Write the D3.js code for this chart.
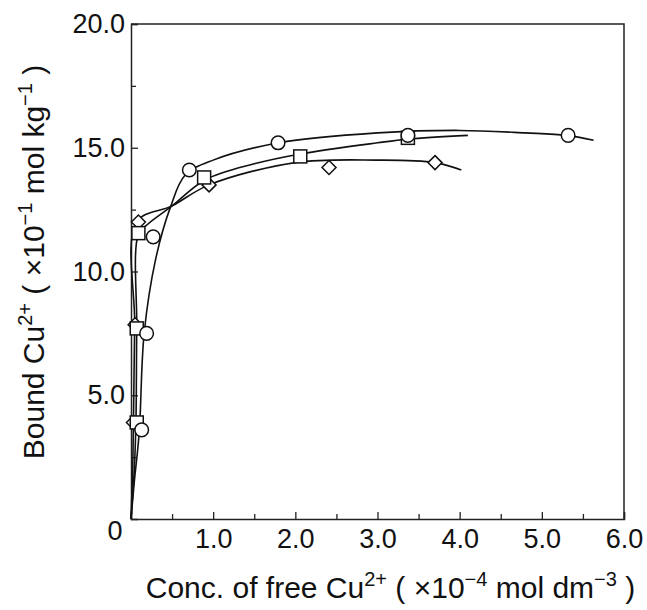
<!DOCTYPE html>
<html>
<head>
<meta charset="utf-8">
<script src="https://cdn.jsdelivr.net/npm/d3@7"></script>
<style>
  body { margin: 0; background: #fff; }
  text { font-family: "Liberation Sans", Arial, sans-serif; fill: #111; }
</style>
</head>
<body>
<div id="chart-area"></div>
<script>
// measured points
let circlePts = [[0.13, 3.6], [0.19, 7.5], [0.27, 11.4], [0.71, 14.1], [1.79, 15.2], [3.37, 15.5], [5.32, 15.5]];
let squarePts = [[0.07, 3.9], [0.07, 7.7], [0.09, 11.55], [0.89, 13.8], [2.06, 14.65], [3.37, 15.4]];
let diamondPts = [[0.03, 3.9], [0.05, 7.85], [0.09, 12.0], [0.95, 13.5], [2.41, 14.2], [3.7, 14.4]];

// fitted curves
let circleFit = [[0, 0], [0.04, 1.5], [0.1, 3.5], [0.16, 7.5], [0.3, 10.5], [0.48, 12.6], [0.66, 13.9],
    [1.0, 14.5], [1.8, 15.2], [3.0, 15.6], [4.0, 15.7], [4.8, 15.6], [5.3, 15.5], [5.63, 15.3]];
let squareFit = [[0, 0], [0.04, 2.0], [0.06, 3.9], [0.07, 7.7], [0.09, 11.5], [0.2, 11.9], [0.5, 12.65],
    [0.9, 13.7], [1.5, 14.35], [2.06, 14.75], [3.0, 15.2], [3.37, 15.35], [4.1, 15.5]];
let diamondFit = [[0, 0], [0.02, 2.0], [0.03, 3.9], [0.045, 7.85], [0.07, 12.0], [0.5, 12.65],
    [0.95, 13.5], [2.0, 14.4], [3.0, 14.5], [3.7, 14.4], [4.02, 14.1]];

let xMajor = [1, 2, 3, 4, 5, 6];
let xMinor = [0.5, 1.5, 2.5, 3.5, 4.5, 5.5];
let yMajor = [5, 10, 15, 20];
let yMinor = [2.5, 7.5, 12.5, 17.5];

let margin = { left: 131, right: 23, top: 24, bottom: 91 };
let width = 647 - margin.left - margin.right;
let height = 610 - margin.top - margin.bottom;

let svg = d3.select("#chart-area")
    .append("svg")
    .attr("width", 647)
    .attr("height", 610)
    .append("g")
    .attr("transform", "translate(" + margin.left + "," + margin.top + ")");

let x = d3.scaleLinear().domain([0, 6]).range([0, width]);
let y = d3.scaleLinear().domain([0, 20]).range([height, 0]);

// frame (top and right)
svg.append("path")
    .attr("d", "M0,0H" + width + "V" + height)
    .attr("fill", "none")
    .attr("stroke", "#222")
    .attr("stroke-width", 1.5);

// X axis
svg.append("g")
    .attr("class", "x-axis")
    .attr("transform", "translate(0," + height + ")")
    .call(d3.axisBottom(x).tickValues(xMajor).tickSize(-7).tickPadding(10)
        .tickFormat(d => d.toFixed(1)));
svg.append("g")
    .attr("transform", "translate(0," + height + ")")
    .call(d3.axisBottom(x).tickValues(xMinor).tickSize(-5).tickFormat(""))
    .select(".domain").remove();

// Y axis
svg.append("g")
    .attr("class", "y-axis")
    .call(d3.axisLeft(y).tickValues(yMajor).tickSize(-7).tickPadding(6)
        .tickFormat(d => d.toFixed(1)));
svg.append("g")
    .call(d3.axisLeft(y).tickValues(yMinor).tickSize(-5).tickFormat(""))
    .select(".domain").remove();

svg.selectAll(".domain").attr("stroke", "#222").attr("stroke-width", 1.5);
svg.selectAll(".tick line").attr("stroke", "#222").attr("stroke-width", 1.3);
svg.selectAll(".tick text")
    .style("font-family", "'Liberation Sans', Arial, sans-serif")
    .style("font-size", "27px")
    .attr("fill", "#111");

// origin label
svg.append("text")
    .attr("x", -16)
    .attr("y", height + 21)
    .attr("text-anchor", "middle")
    .style("font-size", "27px")
    .text("0");

// curves
let line = d3.line()
    .x(d => x(d[0]))
    .y(d => y(d[1]))
    .curve(d3.curveCatmullRom.alpha(0.5));

[circleFit, squareFit, diamondFit].forEach(fit => {
    svg.append("path")
        .datum(fit)
        .attr("d", line)
        .attr("fill", "none")
        .attr("stroke", "#111")
        .attr("stroke-width", 1.6);
});

// markers
svg.selectAll(".m-diamond")
    .data(diamondPts)
    .enter()
    .append("path")
    .attr("class", "m-diamond")
    .attr("d", "M0,-7L7,0L0,7L-7,0Z")
    .attr("transform", d => "translate(" + x(d[0]) + "," + y(d[1]) + ")")
    .attr("fill", "#fff")
    .attr("stroke", "#111")
    .attr("stroke-width", 1.5);

svg.selectAll(".m-square")
    .data(squarePts)
    .enter()
    .append("rect")
    .attr("class", "m-square")
    .attr("x", d => x(d[0]) - 6.5)
    .attr("y", d => y(d[1]) - 6.5)
    .attr("width", 13)
    .attr("height", 13)
    .attr("fill", "#fff")
    .attr("stroke", "#111")
    .attr("stroke-width", 1.5);

svg.selectAll(".m-circle")
    .data(circlePts)
    .enter()
    .append("circle")
    .attr("class", "m-circle")
    .attr("cx", d => x(d[0]))
    .attr("cy", d => y(d[1]))
    .attr("r", 6.8)
    .attr("fill", "#fff")
    .attr("stroke", "#111")
    .attr("stroke-width", 1.5);

// axis labels: main text with superscripts
function labelParts(t, parts) {
    let raised = false;
    parts.forEach(p => {
        let ts = t.append("tspan").text(p[0]);
        if (p[1]) {
            ts.attr("dy", -12).style("font-size", "20px");
            raised = true;
        } else if (raised) {
            ts.attr("dy", 12);
            raised = false;
        }
    });
}

let xl = svg.append("text")
    .attr("x", width / 2 + 13)
    .attr("y", height + 79)
    .attr("text-anchor", "middle")
    .style("font-size", "30px");
labelParts(xl, [["Conc. of free Cu"], ["2+", true], [" ( \u00d710"], ["\u22124", true],
    [" mol dm"], ["\u22123", true], [" )"]]);

let yl = svg.append("text")
    .attr("transform", "rotate(-90)")
    .attr("x", -238)
    .attr("y", -87)
    .attr("text-anchor", "middle")
    .style("font-size", "30px");
labelParts(yl, [["Bound Cu"], ["2+", true], [" ( \u00d710"], ["\u22121", true],
    [" mol kg"], ["\u22121", true], [" )"]]);
</script>
</body>
</html>
